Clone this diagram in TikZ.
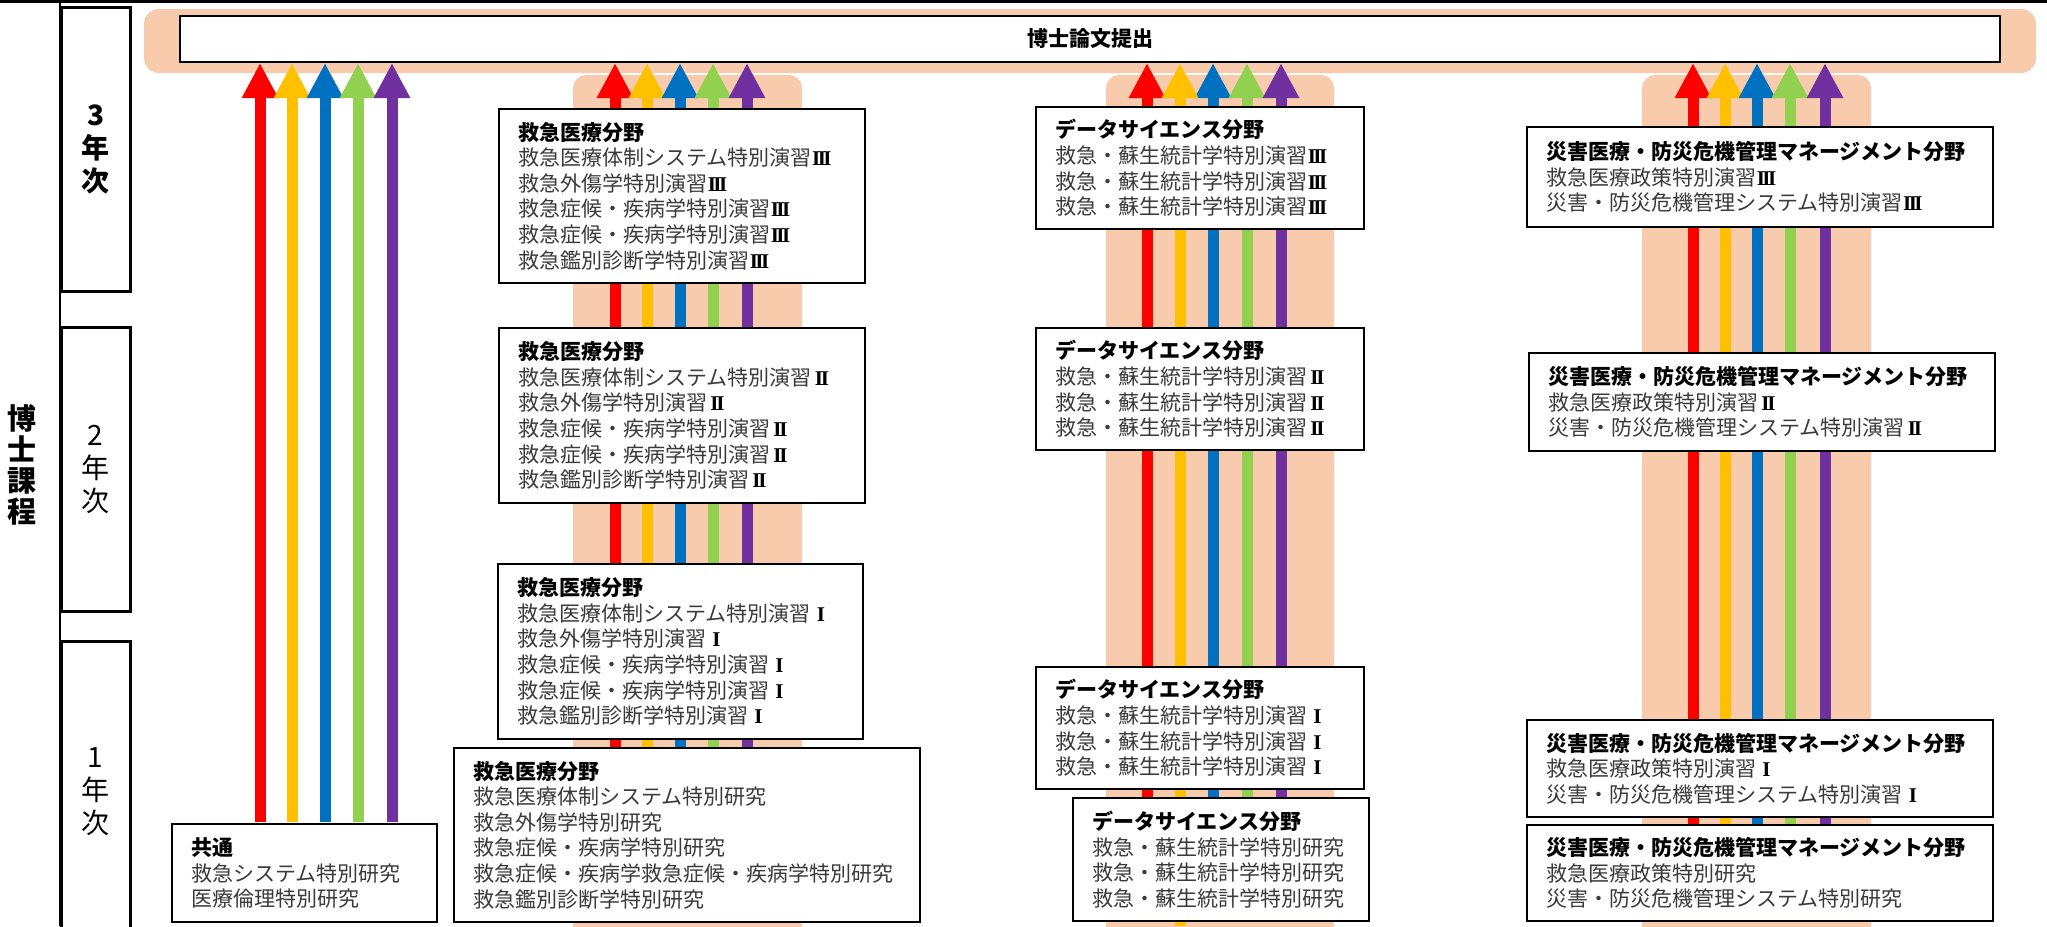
\documentclass[tikz,border=0pt]{standalone}
\usepackage{fontspec}
\setmainfont{Noto Sans CJK JP}
\newfontfamily\rnfont{Liberation Serif}
\usetikzlibrary{arrows.meta}
\definecolor{peach}{HTML}{F8CBAD}
\definecolor{cR}{HTML}{FF0000}
\definecolor{cY}{HTML}{FFC000}
\definecolor{cB}{HTML}{0070C0}
\definecolor{cG}{HTML}{92D050}
\definecolor{cP}{HTML}{7030A0}
\definecolor{txt}{HTML}{3A3A3A}
\newcommand{\hd}[1]{{\bfseries\color{black}#1}}
\newcommand{\romI}{\makebox[1em]{\color{black}\rnfont\bfseries I}}
\newcommand{\romII}{\makebox[1em]{\color{black}\rnfont\bfseries I\kern-0.1em I}}
\newcommand{\romIII}{\makebox[1em]{\color{black}\rnfont\bfseries I\kern-0.12em I\kern-0.12em I}}
\tikzset{
  band/.style={fill=peach, draw=none},
  upar/.style={line width=11pt, -{Triangle[width=34pt,length=35pt]}},
  course/.style={draw=black, line width=2pt, fill=white, anchor=north west, align=left,
    inner xsep=19pt, inner ysep=0pt, font=\fontsize{21}{25.6}\selectfont, text=txt},
  yearbox/.style={draw=black, line width=2.5pt, fill=white, anchor=north west,
    inner sep=0pt, align=center, minimum width=69pt},
  rule/.style={draw=black, line width=2.5pt},
}
\begin{document}
\begin{tikzpicture}[x=1pt,y=-1pt]
\useasboundingbox (0,0) rectangle (2047,926);
% left frame
\draw[rule, line width=3pt] (0,1.5) -- (2047,1.5);
\draw[rule] (60,0) -- (60,926);
\node[font=\fontsize{29}{31}\selectfont\bfseries, align=center] (dc) at (22,465) {博\\士\\課\\程};
\node[yearbox, minimum height=284pt] (y3) at (60,6) {};
\node[font=\fontsize{28}{33}\selectfont\bfseries, align=center] at (y3.center) {3\\年\\次};
\node[yearbox, minimum height=284pt] (y2) at (60,326) {};
\node[font=\fontsize{28}{33}\selectfont, align=center] at (y2.center) {2\\年\\次};
\node[yearbox, minimum height=300pt] (y1) at (60,640) {};
\node[font=\fontsize{28}{33}\selectfont, align=center] at (y1.center) {1\\年\\次};

% peach bands
\fill[band, rounded corners=15pt] (144,9) rectangle (2036,73);
\fill[band, rounded corners=13pt] (573,75) rectangle (802,960);
\fill[band, rounded corners=13pt] (1106,75) rectangle (1334,960);
\fill[band, rounded corners=13pt] (1642,75) rectangle (1871,960);

% thesis box
\node[draw=black, line width=2pt, fill=white, minimum width=1820pt, minimum height=46pt,
  inner sep=0pt, font=\fontsize{21}{23}\selectfont\bfseries] (thesis) at (1090,39) {博士論文提出};

% arrow start levels
\coordinate (c1) at (300,822);
\coordinate (c2) at (680,830);
\coordinate (c3) at (1213,850);
\coordinate (c4) at (1757,870);
\coordinate (bot) at (0,926);

% arrows
\foreach \x/\c in {260/cR,292/cY,325/cB,358/cG,392/cP}
  \draw[upar,\c] (\x,0 |- c1) -- (\x,0 |- thesis.south);
\foreach \x/\c in {615/cR,647/cY,680/cB,713/cG,747/cP}
  \draw[upar,\c] (\x,0 |- c2) -- (\x,0 |- thesis.south);
\foreach \x/\c in {1147/cR,1213/cB,1247/cG,1281/cP}
  \draw[upar,\c] (\x,0 |- c3) -- (\x,0 |- thesis.south);
\draw[upar,cY] (1180,0 |- bot) -- (1180,0 |- thesis.south);
\foreach \x/\c in {1693/cR,1725/cY,1757/cB,1790/cG,1825/cP}
  \draw[upar,\c] (\x,0 |- c4) -- (\x,0 |- thesis.south);

% common
\node[course, text width=227pt, minimum height=98pt] (common) at (171,823)
  {\hd{共通}\\救急システム特別研究\\医療倫理特別研究};

% emergency medicine
\node[course, text width=328pt, minimum height=174pt] (a3) at (498,108)
  {\hd{救急医療分野}\\救急医療体制システム特別演習\romIII\\救急外傷学特別演習\romIII\\救急症候・疾病学特別演習\romIII\\救急症候・疾病学特別演習\romIII\\救急鑑別診断学特別演習\romIII};
\node[course, text width=328pt, minimum height=175pt] (a2) at (498,327)
  {\hd{救急医療分野}\\救急医療体制システム特別演習\romII\\救急外傷学特別演習\romII\\救急症候・疾病学特別演習\romII\\救急症候・疾病学特別演習\romII\\救急鑑別診断学特別演習\romII};
\node[course, text width=327pt, minimum height=175pt] (a1) at (497,563)
  {\hd{救急医療分野}\\救急医療体制システム特別演習\romI\\救急外傷学特別演習\romI\\救急症候・疾病学特別演習\romI\\救急症候・疾病学特別演習\romI\\救急鑑別診断学特別演習\romI};
\node[course, text width=428pt, minimum height=174pt] (a0) at (453,747)
  {\hd{救急医療分野}\\救急医療体制システム特別研究\\救急外傷学特別研究\\救急症候・疾病学特別研究\\救急症候・疾病学救急症候・疾病学特別研究\\救急鑑別診断学特別研究};

% data science
\node[course, text width=290pt, minimum height=122pt] (d3) at (1035,106)
  {\hd{データサイエンス分野}\\救急・蘇生統計学特別演習\romIII\\救急・蘇生統計学特別演習\romIII\\救急・蘇生統計学特別演習\romIII};
\node[course, text width=290pt, minimum height=122pt] (d2) at (1035,327)
  {\hd{データサイエンス分野}\\救急・蘇生統計学特別演習\romII\\救急・蘇生統計学特別演習\romII\\救急・蘇生統計学特別演習\romII};
\node[course, text width=290pt, minimum height=122pt] (d1) at (1035,666)
  {\hd{データサイエンス分野}\\救急・蘇生統計学特別演習\romI\\救急・蘇生統計学特別演習\romI\\救急・蘇生統計学特別演習\romI};
\node[course, text width=258pt, minimum height=123pt] (d0) at (1072,797)
  {\hd{データサイエンス分野}\\救急・蘇生統計学特別研究\\救急・蘇生統計学特別研究\\救急・蘇生統計学特別研究};

% disaster
\node[course, text width=428pt, minimum height=100pt] (s3) at (1526,126)
  {\hd{災害医療・防災危機管理マネージメント分野}\\救急医療政策特別演習\romIII\\災害・防災危機管理システム特別演習\romIII};
\node[course, text width=428pt, minimum height=98pt] (s2) at (1528,352)
  {\hd{災害医療・防災危機管理マネージメント分野}\\救急医療政策特別演習\romII\\災害・防災危機管理システム特別演習\romII};
\node[course, text width=428pt, minimum height=97pt] (s1) at (1526,719)
  {\hd{災害医療・防災危機管理マネージメント分野}\\救急医療政策特別演習\romI\\災害・防災危機管理システム特別演習\romI};
\node[course, text width=428pt, minimum height=96pt] (s0) at (1526,824)
  {\hd{災害医療・防災危機管理マネージメント分野}\\救急医療政策特別研究\\災害・防災危機管理システム特別研究};
\end{tikzpicture}
\end{document}
